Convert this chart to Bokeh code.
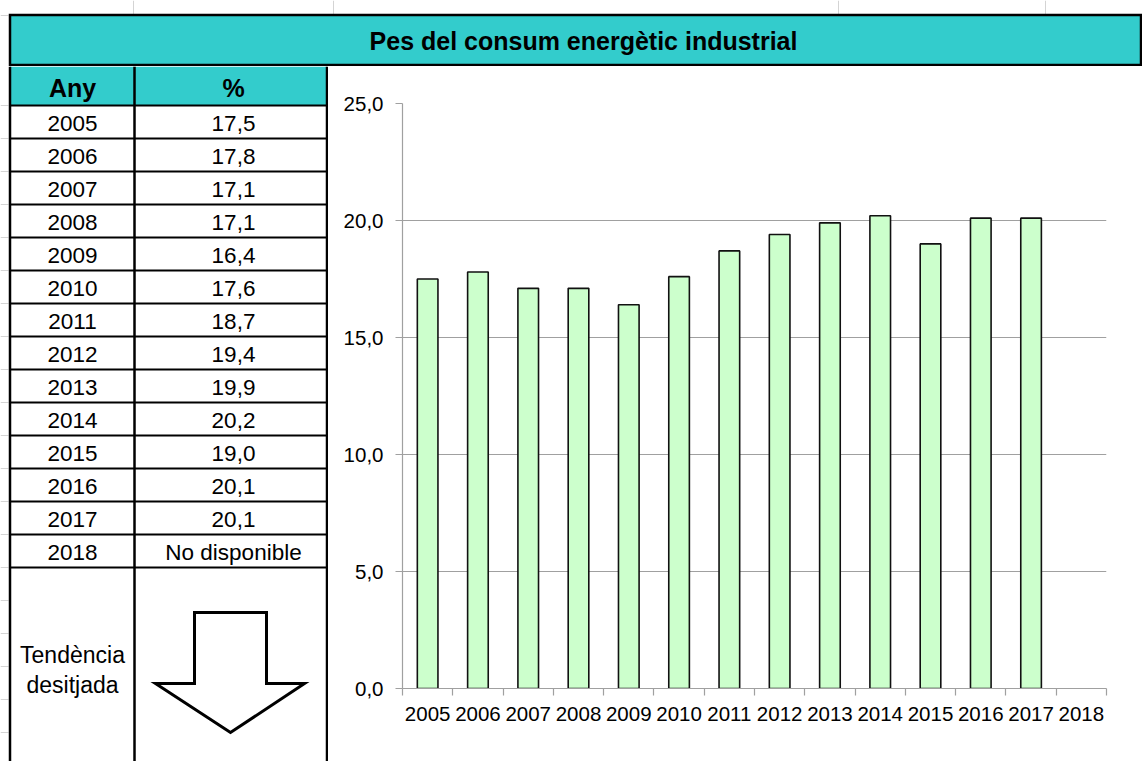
from bokeh.plotting import figure
from bokeh.layouts import column, row
from bokeh.models import Range1d, FixedTicker, ColumnDataSource
from bokeh.core.properties import value
from bokeh.embed import file_html
from bokeh.resources import INLINE

# ---------------- data ----------------
title = "Pes del consum energètic industrial"
col_headers = ["Any", "%"]
years = ["2005", "2006", "2007", "2008", "2009", "2010", "2011", "2012",
         "2013", "2014", "2015", "2016", "2017", "2018"]
values = [17.5, 17.8, 17.1, 17.1, 16.4, 17.6, 18.7, 19.4, 19.9, 20.2, 19.0, 20.1, 20.1, None]
missing_label = "No disponible"
trend_label = ["Tendència", "desitjada"]
y_ticks = [0, 5, 10, 15, 20, 25]

FONT = value("Liberation Sans")
TEAL = "#33cccc"
BAR = "#ccffcc"
GRID = "#a0a0a0"
SHEET = "#d4d4d4"


def blank_fig(w, h, xr, yr):
    f = figure(width=w, height=h, x_range=Range1d(*xr), y_range=Range1d(*yr),
               output_backend="svg", toolbar_location=None,
               min_border=0, min_border_left=0, min_border_right=0,
               min_border_top=0, min_border_bottom=0)
    f.axis.visible = False
    f.grid.visible = False
    f.outline_line_color = None
    f.background_fill_color = "white"
    f.border_fill_color = "white"
    f.frame_align = False
    return f


W, H = 1142, 761
SPLIT_X = 328
SPLIT_Y = 66

# ---------------- title bar ----------------
tf = blank_fig(W, SPLIT_Y, (0, W), (SPLIT_Y, 0))
stub_x = [133, 333, 838, 1045]
tf.segment(x0=stub_x, y0=[0] * 4, x1=stub_x, y1=[13.5] * 4, line_color=SHEET, line_width=1)
tf.segment(x0=[0], y0=[15], x1=[8], y1=[15], line_color=SHEET, line_width=1)
tf.quad(left=[9.5], right=[1140.5], top=[14.5], bottom=[64.5],
        fill_color=TEAL, line_color="black", line_width=2.5, line_join="miter")
tf.text(x=[583], y=[40], text=[title], text_font=FONT, text_font_size="25px",
        text_font_style="bold", text_align="center", text_baseline="middle", text_color="black")

# ---------------- table ----------------
tb = blank_fig(SPLIT_X, H - SPLIT_Y, (0, SPLIT_X), (H, SPLIT_Y))
row_h = 33
first_row = 105
col_x = [9.5, 134, 326.5]
# spreadsheet row stubs at the far left
stub_y = [first_row + i * row_h for i in range(20)]
tb.segment(x0=[0] * len(stub_y), x1=[8] * len(stub_y), y0=stub_y, y1=stub_y,
           line_color=SHEET, line_width=1)
# header fill
tb.quad(left=[col_x[0]], right=[col_x[2]], top=[SPLIT_Y], bottom=[first_row],
        fill_color=TEAL, line_color=None)
tb.text(x=[72, 233], y=[87, 87], text=col_headers, text_font=FONT, text_font_size="25px",
        text_font_style="bold", text_align="center", text_baseline="middle", text_color="black")
# rows
row_tops = [first_row + i * row_h for i in range(len(years))]
val_txt = [missing_label if v is None else f"{v:.1f}".replace(".", ",") for v in values]
src = ColumnDataSource(dict(
    y=[t + row_h / 2 + 1 for t in row_tops], year=years, val=val_txt,
    xa=[72] * len(years), xb=[233] * len(years)))
tb.text(x="xa", y="y", text="year", source=src, text_font=FONT, text_font_size="22.5px",
        text_align="center", text_baseline="middle", text_color="black")
tb.text(x="xb", y="y", text="val", source=src, text_font=FONT, text_font_size="22.5px",
        text_align="center", text_baseline="middle", text_color="black")
hl = [first_row + i * row_h for i in range(len(years) + 1)]
tb.segment(x0=[col_x[0]] * len(hl), x1=[col_x[2]] * len(hl), y0=hl, y1=hl,
           line_color="black", line_width=2)
tb.segment(x0=col_x, x1=col_x, y0=[SPLIT_Y] * 3, y1=[H] * 3, line_color="black", line_width=2.5)
# desired trend cell
tb.text(x=[72, 72], y=[654, 684], text=trend_label, text_font=FONT, text_font_size="23px",
        text_align="center", text_baseline="middle", text_color="black")
tb.patch(x=[194, 266, 266, 304, 230, 155, 194, 194],
         y=[612, 612, 683, 683, 732, 683, 683, 612],
         fill_color="white", line_color="black", line_width=3, line_join="miter")

# ---------------- bar chart ----------------
n = len(years)
centers = [i + 0.5 for i in range(n)]
bounds = list(range(n + 1))
bar_x = [c for c, v in zip(centers, values) if v is not None]
bar_top = [v for v in values if v is not None]

cp = figure(width=W - SPLIT_X, height=H - SPLIT_Y, x_range=Range1d(0, n), y_range=Range1d(0, 25),
            output_backend="svg", toolbar_location=None,
            min_border_left=74, min_border_right=36, min_border_top=37, min_border_bottom=73)
cp.frame_align = False
cp.outline_line_color = None
cp.background_fill_color = "white"
cp.border_fill_color = "white"
cp.xgrid.visible = False
cp.ygrid.ticker = FixedTicker(ticks=y_ticks)
cp.ygrid.grid_line_color = GRID
cp.ygrid.grid_line_width = 1.2

cp.vbar(x=bar_x, top=bar_top, width=0.41, bottom=0, fill_color=BAR,
        line_color="#111111", line_width=1.6)

ya = cp.yaxis[0]
ya.ticker = FixedTicker(ticks=y_ticks)
ya.major_label_overrides = {t: f"{t:.1f}".replace(".", ",") for t in y_ticks}
ya.axis_line_color = GRID
ya.axis_line_width = 1.2
ya.major_tick_line_color = GRID
ya.major_tick_line_width = 1.2
ya.major_tick_out = 7
ya.major_tick_in = 0
ya.minor_tick_line_color = None
ya.major_label_standoff = 12
ya.major_label_text_font = "Liberation Sans"
ya.major_label_text_font_size = "20.5px"
ya.major_label_text_color = "black"

xa = cp.xaxis[0]
xa.ticker = FixedTicker(ticks=centers, minor_ticks=bounds)
xa.major_label_overrides = {c: y for c, y in zip(centers, years)}
xa.axis_line_color = GRID
xa.axis_line_width = 1.2
xa.major_tick_line_color = None
xa.major_tick_out = 0
xa.major_tick_in = 0
xa.minor_tick_line_color = GRID
xa.minor_tick_line_width = 1.2
xa.minor_tick_out = 7
xa.minor_tick_in = 0
xa.major_label_standoff = 11
xa.major_label_text_font = "Liberation Sans"
xa.major_label_text_font_size = "20.5px"
xa.major_label_text_color = "black"

layout = column(tf, row(tb, cp, spacing=0), spacing=0)

open("out.html", "w").write(file_html(layout, INLINE))
